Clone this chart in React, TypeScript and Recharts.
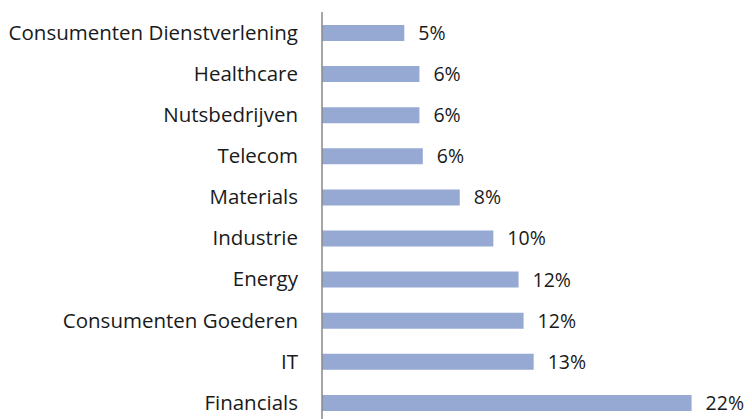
import { BarChart, Bar, XAxis, YAxis, LabelList } from 'recharts';

const categories = [
  'Consumenten Dienstverlening',
  'Healthcare',
  'Nutsbedrijven',
  'Telecom',
  'Materials',
  'Industrie',
  'Energy',
  'Consumenten Goederen',
  'IT',
  'Financials',
];
const weights = [4.9, 5.8, 5.8, 6.0, 8.2, 10.2, 11.7, 12.0, 12.6, 22.0];
const labels = ['5%', '6%', '6%', '6%', '8%', '10%', '12%', '12%', '13%', '22%'];

const data = categories.map((name, i) => ({ name, value: weights[i], label: labels[i] }));

const font = '"Open Sans", sans-serif';

export default function App() {
  return (
    <div style={{ position: 'absolute', left: 0, top: 0 }}>
      <BarChart
        width={752}
        height={430}
        data={data}
        layout="vertical"
        margin={{ top: 12, right: 10, left: 0, bottom: 7 }}
      >
        <XAxis type="number" domain={[0, 25]} hide />
        <YAxis
          type="category"
          dataKey="name"
          width={322}
          tickLine={false}
          tickSize={0}
          tickMargin={24}
          axisLine={{ stroke: '#888888', strokeWidth: 1.5 }}
          tick={{ fill: '#1a1a1a', fontSize: 20.5, fontFamily: font }}
        />
        <Bar dataKey="value" fill="#95a9d3" barSize={16} isAnimationActive={false}>
          <LabelList
            dataKey="label"
            position="right"
            offset={14}
            style={{ fill: '#1a1a1a', fontSize: 19.5, fontFamily: font }}
          />
        </Bar>
      </BarChart>
    </div>
  );
}
